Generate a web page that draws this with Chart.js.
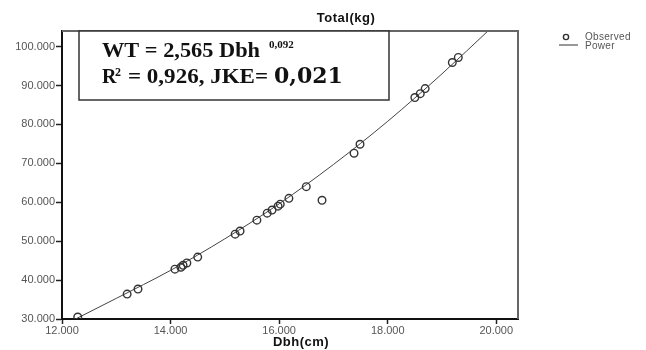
<!DOCTYPE html>
<html>
<head>
<meta charset="utf-8">
<script src="https://cdn.jsdelivr.net/npm/chart.js@4.4.0/dist/chart.umd.min.js"></script>
<style>
  html, body { margin: 0; padding: 0; background: #fff; }
  #wrap { width: 646px; height: 350px; }
</style>
</head>
<body>
<div id="wrap"><canvas id="chart-dbh" width="646" height="350"></canvas></div>
<script>
// observed trees: diameter at breast height (cm) and total weight (kg)
const dbhObserved = [12.29, 13.2, 13.4, 14.08, 14.19, 14.23, 14.3, 14.5, 15.19, 15.28, 15.59, 15.78, 15.87, 15.98, 16.02, 16.18, 16.5, 16.79, 17.38, 17.49, 18.5, 18.6, 18.69, 19.19, 19.3];
const wtObserved = [30.5, 36.4, 37.7, 42.8, 43.3, 43.8, 44.4, 45.9, 51.8, 52.6, 55.4, 57.2, 58.0, 59.0, 59.5, 61.0, 64.0, 60.5, 72.6, 74.9, 86.9, 87.9, 89.2, 95.9, 97.2];

// fitted power curve
const dbhPower = [12.25, 13, 14, 15, 16, 17, 18, 19, 19.9];
const wtPower = [30.0, 35.3, 42.5, 50.6, 59.6, 69.7, 80.8, 93.0, 104.7];

// axis ticks
const xTicks = [12, 14, 16, 18, 20];
const xTickLabels = ["12.000", "14.000", "16.000", "18.000", "20.000"];
const yTicks = [30, 40, 50, 60, 70, 80, 90, 100];
const yTickLabels = ["30.000", "40.000", "50.000", "60.000", "70.000", "80.000", "90.000", "100.000"];

const tickFont = { family: "'Liberation Sans', Arial, sans-serif", size: 11 };

// frame, equation box, titles and legend
const decorations = {
  id: "decorations",
  afterDraw(chart) {
    const ctx = chart.ctx;
    const a = chart.chartArea;
    ctx.save();

    // top and right frame lines
    ctx.strokeStyle = "#666";
    ctx.lineWidth = 2;
    ctx.beginPath();
    ctx.moveTo(a.left, a.top);
    ctx.lineTo(a.right, a.top);
    ctx.lineTo(a.right, a.bottom);
    ctx.stroke();

    // equation box
    ctx.fillStyle = "#fff";
    ctx.fillRect(79, a.top, 310, 69);
    ctx.strokeStyle = "#333";
    ctx.lineWidth = 1.5;
    ctx.strokeRect(79, a.top, 310, 69);

    ctx.fillStyle = "#111";
    ctx.textBaseline = "alphabetic";
    ctx.textAlign = "left";
    const serif = "'Liberation Serif', 'Times New Roman', serif";

    // line 1
    ctx.font = "bold 20px " + serif;
    let s1 = "WT = 2,565 Dbh";
    let w1 = ctx.measureText(s1).width;
    ctx.save();
    ctx.translate(102, 57);
    ctx.scale(158 / w1, 1);
    ctx.fillText(s1, 0, 0);
    ctx.restore();
    ctx.font = "bold 11px " + serif;
    ctx.fillText("0,092", 269, 48);

    // line 2
    ctx.font = "bold 20px " + serif;
    ctx.fillText("R", 102, 83);
    ctx.font = "bold 12px " + serif;
    ctx.fillText("2", 115, 76);
    ctx.font = "bold 20px " + serif;
    let s2 = "= 0,926, JKE=";
    let w2 = ctx.measureText(s2).width;
    ctx.save();
    ctx.translate(128, 83);
    ctx.scale(140 / w2, 1);
    ctx.fillText(s2, 0, 0);
    ctx.restore();
    ctx.font = "bold 22px 'DejaVu Serif', serif";
    ctx.fillText("0,021", 274, 83);

    // chart title and x axis title
    ctx.fillStyle = "#111";
    ctx.textAlign = "center";
    ctx.textBaseline = "middle";
    ctx.letterSpacing = "0.5px";
    ctx.font = "bold 13px 'Liberation Sans', Arial, sans-serif";
    ctx.fillText("Total(kg)", 346, 18);
    ctx.fillText("Dbh(cm)", 301, 342);

    // legend
    ctx.letterSpacing = "0.3px";
    ctx.strokeStyle = "#333";
    ctx.lineWidth = 1.4;
    ctx.beginPath();
    ctx.arc(566, 37, 2.6, 0, Math.PI * 2);
    ctx.stroke();
    ctx.lineWidth = 1;
    ctx.beginPath();
    ctx.moveTo(559, 45);
    ctx.lineTo(578, 45);
    ctx.stroke();
    ctx.fillStyle = "#555";
    ctx.textAlign = "left";
    ctx.font = "10px 'Liberation Sans', Arial, sans-serif";
    ctx.fillText("Observed", 585, 37);
    ctx.fillText("Power", 585, 46);

    ctx.restore();
  }
};

const observedPoints = dbhObserved.map((x, i) => ({ x: x, y: wtObserved[i] }));
const powerPoints = dbhPower.map((x, i) => ({ x: x, y: wtPower[i] }));

new Chart(document.getElementById("chart-dbh"), {
  type: "scatter",
  data: {
    datasets: [
      {
        label: "Power",
        data: powerPoints,
        showLine: true,
        borderColor: "#444",
        borderWidth: 1,
        pointRadius: 0,
        cubicInterpolationMode: "monotone",
        order: 2
      },
      {
        label: "Observed",
        data: observedPoints,
        pointRadius: 3.8,
        pointBorderWidth: 1.4,
        pointBorderColor: "#333",
        pointBackgroundColor: "rgba(255,255,255,0)",
        order: 1
      }
    ]
  },
  options: {
    responsive: false,
    animation: false,
    layout: { padding: { top: 31, right: 128, bottom: 0, left: 0 } },
    plugins: {
      legend: { display: false },
      tooltip: { enabled: false },
      title: { display: false }
    },
    scales: {
      x: {
        type: "linear",
        min: 12,
        max: 20.4,
        afterFit: (s) => { s.height = 31; },
        afterBuildTicks: (s) => { s.ticks = xTicks.map(v => ({ value: v })); },
        ticks: {
          color: "#555",
          font: tickFont,
          padding: 0,
          callback: (v) => xTickLabels[xTicks.indexOf(v)]
        },
        grid: { drawOnChartArea: false, drawTicks: true, tickLength: 5, tickColor: "#222", tickWidth: 1.5 },
        border: { display: true, color: "#111", width: 2 }
      },
      y: {
        type: "linear",
        min: 30,
        max: 104,
        afterFit: (s) => { s.width = 62; },
        afterBuildTicks: (s) => { s.ticks = yTicks.map(v => ({ value: v })); },
        ticks: {
          color: "#555",
          font: tickFont,
          padding: 1,
          callback: (v) => yTickLabels[yTicks.indexOf(v)]
        },
        grid: { drawOnChartArea: false, drawTicks: true, tickLength: 6, tickColor: "#222", tickWidth: 1.5 },
        border: { display: true, color: "#111", width: 2 }
      }
    }
  },
  plugins: [decorations]
});
</script>
</body>
</html>
